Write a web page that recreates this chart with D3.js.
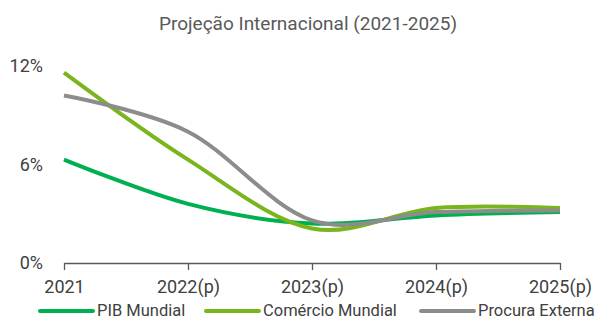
<!DOCTYPE html>
<html>
<meta charset="utf-8">
<style>
  body { margin: 0; background: #fff; }
  text { font-family: Roboto, "Noto Sans", sans-serif; }
</style>

<body>
  <svg></svg>
</body>

<script src="https://d3js.org/d3.v7.min.js"></script>

<script>

  var years = ["2021", "2022(p)", "2023(p)", "2024(p)", "2025(p)"];
  var pibMundial = [6.3, 3.6, 2.4, 2.9, 3.1];
  var comercioMundial = [11.6, 6.3, 2.1, 3.35, 3.35];
  var procuraExterna = [10.2, 8.0, 2.6, 3.1, 3.2];
  var yTicks = [0, 6, 12];

  var seriesNames = ["PIB Mundial", "Comércio Mundial", "Procura Externa"];
  var seriesValues = [pibMundial, comercioMundial, procuraExterna];
  var colors = ["#00b050", "#7ab51d", "#8c8c8c"];

  var svg = d3.select("svg")
    .attr("width", 608)
    .attr("height", 320);

  var x = d3.scalePoint()
    .domain(years)
    .range([64, 560]);

  var y = d3.scaleLinear()
    .domain([0, 12])
    .range([263, 66]);

  // title
  svg.append("text")
    .attr("x", 308)
    .attr("y", 30)
    .attr("text-anchor", "middle")
    .style("font-size", "19px")
    .style("fill", "#595959")
    .text("Projeção Internacional (2021-2025)");

  // y labels (no axis line)
  svg.selectAll(".ylab")
    .data(yTicks)
    .enter().append("text")
    .attr("class", "ylab")
    .attr("x", 43)
    .attr("y", d => y(d))
    .attr("dy", "0.35em")
    .attr("text-anchor", "end")
    .style("font-size", "18px")
    .style("fill", "#404040")
    .text(d => d + "%");

  // x axis
  var xAxis = d3.axisBottom(x)
    .tickSize(7)
    .tickSizeOuter(0)
    .tickPadding(10);

  var gx = svg.append("g")
    .attr("transform", "translate(0," + y(0) + ")")
    .call(xAxis);

  gx.select(".domain").attr("stroke", "#595959").attr("stroke-width", 1.3);
  gx.selectAll(".tick line").attr("stroke", "#595959").attr("stroke-width", 1.3);
  gx.selectAll(".tick text")
    .style("font-size", "18px")
    .style("font-family", "Roboto, sans-serif")
    .attr("fill", "#404040");

  // lines
  var line = d3.line()
    .x((d, i) => x(years[i]))
    .y(d => y(d))
    .curve(d3.curveCardinal.tension(0));

  svg.selectAll(".series")
    .data(seriesValues)
    .enter().append("path")
    .attr("class", "series")
    .attr("d", d => line(d))
    .attr("fill", "none")
    .attr("stroke", (d, i) => colors[i])
    .attr("stroke-width", 4);

  // legend
  var legendX = [40, 206, 421];
  var legend = svg.selectAll(".legend")
    .data(seriesNames)
    .enter().append("g")
    .attr("class", "legend")
    .attr("transform", (d, i) => "translate(" + legendX[i] + ",311)");

  legend.append("line")
    .attr("x1", 0)
    .attr("x2", 53)
    .attr("stroke", (d, i) => colors[i])
    .attr("stroke-width", 4)
    .attr("stroke-linecap", "round");

  legend.append("text")
    .attr("x", 57)
    .attr("dy", "0.32em")
    .style("font-size", "16.5px")
    .style("fill", "#404040")
    .text(d => d);

</script>

</html>
